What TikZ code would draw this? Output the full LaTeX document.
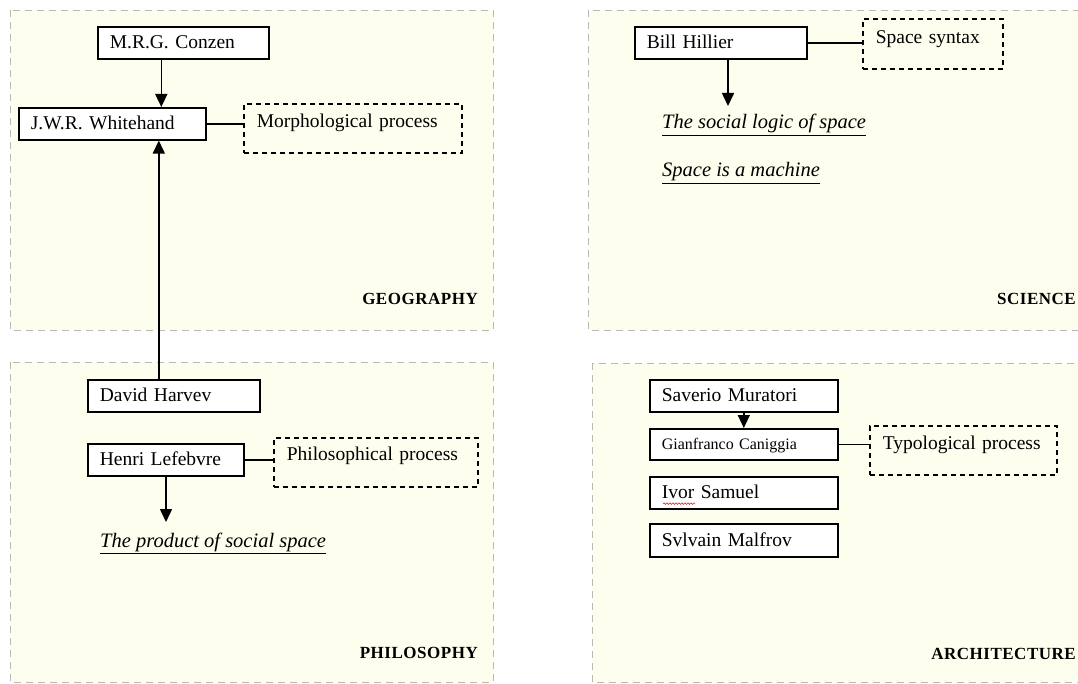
\documentclass[tikz,border=0pt]{standalone}
\usepackage{fontspec}
\setmainfont{Liberation Serif}
\usetikzlibrary{arrows.meta,calc,decorations.pathmorphing}
\definecolor{panelfill}{RGB}{254,254,238}
\definecolor{panelline}{RGB}{185,185,185}
\definecolor{squig}{RGB}{220,40,40}
\newcommand\fsbox{\fontsize{19.5}{22}\selectfont}
\newcommand\fssmall{\fontsize{16}{19}\selectfont}
\newcommand\fsital{\fontsize{20.5}{23}\selectfont\itshape}
\newcommand\fslab{\fontsize{17}{19}\selectfont\bfseries\addfontfeature{LetterSpace=3}}
\tikzset{
  panel/.style={draw=panelline, fill=panelfill, line width=0.9pt, dash pattern=on 7pt off 5pt},
  stepbox/.style={draw, line width=1.6pt, fill=white, inner xsep=12pt, inner ysep=0pt,
     text height=22pt, text depth=10pt, align=left, anchor=north west, font=\fsbox},
  procbox/.style={draw, line width=1.6pt, dash pattern=on 5pt off 4pt, inner xsep=13pt, inner ysep=0pt,
     text height=24pt, text depth=25pt, align=left, anchor=north west, font=\fsbox},
  booktitle/.style={anchor=base west, inner sep=0pt, font=\fsital},
  paneltitle/.style={anchor=base east, inner sep=0pt, font=\fslab},
  arr/.style={line width=1.6pt, -{Triangle[width=12pt,length=13pt]}},
  link/.style={line width=1.6pt}
}
\begin{document}
\begin{tikzpicture}[x=1pt,y=-1pt]
\useasboundingbox (0,0) rectangle (1078,684);
\fill[white] (0,0) rectangle (1078,684);
% panels
\draw[panel] (10,10) rectangle (493,330);
\draw[panel] (588,10) rectangle (1090,330);
\draw[panel] (10,362) rectangle (493,682);
\draw[panel] (592,363) rectangle (1090,682);

% Geography
\node[stepbox, text width=147pt] (conzen) at (97,26) {M.R.G. Conzen};
\node[stepbox, text width=163pt] (whitehand) at (18,107) {J.W.R. Whitehand};
\node[procbox, text width=192pt] (morph) at (243,103) {Morphological process};
\node[paneltitle] (geo) at (478,305) {GEOGRAPHY};

% Science
\node[stepbox, text width=148pt] (hillier) at (634,26) {Bill Hillier};
\node[procbox, text width=114pt, text height=25pt] (syntax) at (862,18) {Space syntax};
\node[booktitle] (logic) at (662,129) {\underline{The social logic of space}};
\node[booktitle] (machine) at (662,177) {\underline{Space is a machine}};
\node[paneltitle] (sci) at (1076,305) {SCIENCE};
\coordinate (hend) at (728,106);

% Philosophy
\node[stepbox, text width=148pt] (harvey) at (87,379) {David Harvev};
\node[stepbox, text width=132pt] (lefebvre) at (87,443) {Henri Lefebvre};
\node[procbox, text width=178pt, text height=23pt, text depth=26pt] (philos) at (273,437) {Philosophical process};
\node[booktitle] (product) at (100,547) {\underline{The product of social space}};
\node[paneltitle] (phil) at (478,658) {PHILOSOPHY};
\coordinate (lend) at (166,522);

% Architecture
\node[stepbox, text width=164pt] (muratori) at (649,379) {Saverio Muratori};
\node[stepbox, text width=164pt, font=\fssmall, text height=21pt, text depth=10pt] (caniggia) at (649,428) {Gianfranco Caniggia};
\node[procbox, text width=161pt] (typo) at (869,425) {Typological process};
\node[stepbox, text width=164pt] (ivor) at (649,476) {Ivor Samuel};
\node[stepbox, text width=164pt, text height=23pt, text depth=10pt] (sylvain) at (649,523) {Svlvain Malfrov};
\node[paneltitle] (arch) at (1076,659) {ARCHITECTURE};

% connectors
\draw[arr] ([xshift=-22pt]conzen.south) -- ([xshift=-22pt]conzen.south |- whitehand.north);
\draw[link] (whitehand.east) -- (whitehand.east -| morph.west);
\draw[arr] ([xshift=-15pt]harvey.north) -- ([xshift=-15pt]harvey.north |- whitehand.south);
\draw[link] (hillier.east) -- (hillier.east -| syntax.west);
\draw[arr] (hillier.south -| hend) -- (hend);
\draw[link] (lefebvre.east) -- (lefebvre.east -| philos.west);
\draw[arr] (lefebvre.south -| lend) -- (lend);
\draw[arr] (muratori.south) -- (muratori.south |- caniggia.north);
\draw[link] (caniggia.east) -- (caniggia.east -| typo.west);
% spell-check mark
\draw[squig, line width=0.6pt, decorate, decoration={snake, segment length=3pt, amplitude=0.8pt}]
  ([shift={(14pt,6pt)}]ivor.south west) -- ([shift={(46pt,6pt)}]ivor.south west);
\end{tikzpicture}
\end{document}
